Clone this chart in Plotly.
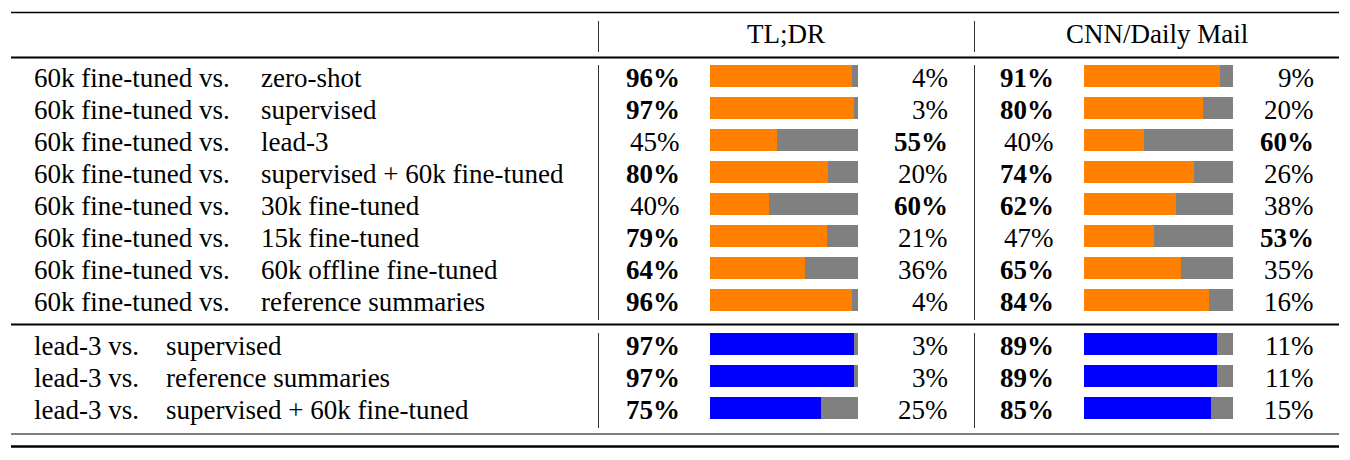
import plotly.graph_objects as go

left_terms = ["60k fine-tuned vs."] * 8 + ["lead-3 vs."] * 3
right_terms = [
    "zero-shot",
    "supervised",
    "lead-3",
    "supervised + 60k fine-tuned",
    "30k fine-tuned",
    "15k fine-tuned",
    "60k offline fine-tuned",
    "reference summaries",
    "supervised",
    "reference summaries",
    "supervised + 60k fine-tuned",
]
tldr_pct = [96, 97, 45, 80, 40, 79, 64, 96, 97, 97, 75]
cnn_pct = [91, 80, 40, 74, 62, 47, 65, 84, 89, 89, 85]
group_sizes = [8, 3]
group_colors = ["#FF8000", "#0000FF"]
datasets = ["TL;DR", "CNN/Daily Mail"]

# page has an 8px body margin, so the figure is a bit smaller and shifted
PAGE_W, PAGE_H, M = 1350, 460, 8
W, H = PAGE_W - 2 * M, PAGE_H - 2 * M
FONT = "Liberation Serif"
FS = 27
GRAY = "#808080"
PAD = 3  # annotation box padding

ROW0, ROWH = 76, 32  # page px of first row centre, row pitch


def px(x):
    return (x - M) / W


def py(y):
    return 1 - (y - M) / H


# row positions: one slot per row, a little extra gap between the groups
ypos, colors = [], []
offset = 0.0
for g, n in enumerate(group_sizes):
    start = sum(group_sizes[:g])
    for i in range(n):
        ypos.append(start + i + offset)
        colors.append(group_colors[g])
    offset += 0.375

fig = go.Figure()

for vals, xa in [(tldr_pct, "x"), (cnn_pct, "x2")]:
    fig.add_trace(go.Bar(
        y=ypos, x=vals, orientation="h", marker_color=colors,
        marker_line_width=0, width=0.69, xaxis=xa, yaxis="y",
        hoverinfo="skip", showlegend=False,
    ))
    fig.add_trace(go.Bar(
        y=ypos, x=[100 - v for v in vals], orientation="h", marker_color=GRAY,
        marker_line_width=0, width=0.69, xaxis=xa, yaxis="y",
        hoverinfo="skip", showlegend=False,
    ))

ann = []


def txt(x, y, s, anchor="left", bold=False, yref="y"):
    if bold:
        s = "<b>" + s + "</b>"
    shift = {"left": -PAD, "right": PAD, "center": 0}[anchor]
    ann.append(dict(x=px(x + shift), y=y, xref="paper", yref=yref, text=s, showarrow=False,
                    xanchor=anchor, yanchor="middle",
                    font=dict(family=FONT, size=FS, color="black")))


for i, y in enumerate(ypos):
    txt(35, y + 0.06, left_terms[i])
    second_x = 262 if left_terms[i].startswith("60k") else 167
    txt(second_x, y + 0.06, right_terms[i])
    for vals, lx, rx in [(tldr_pct, 679, 947), (cnn_pct, 1053, 1313)]:
        v = vals[i]
        txt(lx, y + 0.06, f"{v}%", "right", bold=v > 100 - v)
        txt(rx, y + 0.06, f"{100 - v}%", "right", bold=100 - v > v)

txt(786, py(34), datasets[0], "center", yref="paper")
txt(1157, py(34), datasets[1], "center", yref="paper")

shapes = []


def hline(y, w, color="black"):
    shapes.append(dict(type="line", xref="paper", yref="paper", x0=px(11), x1=px(1339),
                       y0=py(y), y1=py(y), line=dict(color=color, width=w)))


def vline(x, y0, y1):
    shapes.append(dict(type="line", xref="paper", yref="paper", x0=px(x), x1=px(x),
                       y0=py(y0), y1=py(y1), line=dict(color="#333333", width=1)))


hline(12.5, 1.6)
hline(57.5, 2)
hline(324.5, 2)
hline(434, 1.5, "#555555")
hline(446.5, 2.6)
for x in (598.5, 974.5):
    vline(x, 21, 52)
    vline(x, 65, 320)
    vline(x, 333, 428)

y_top = (M - ROW0) / ROWH
y_bot = (M + H - ROW0) / ROWH

fig.update_layout(
    width=W, height=H,
    margin=dict(l=0, r=0, t=0, b=0),
    paper_bgcolor="white", plot_bgcolor="white",
    barmode="stack", bargap=0,
    annotations=ann, shapes=shapes,
    xaxis=dict(domain=[px(710), px(858)], range=[0, 100], visible=False, fixedrange=True),
    xaxis2=dict(domain=[px(1084), px(1233)], range=[0, 100], visible=False, fixedrange=True,
                anchor="y"),
    yaxis=dict(domain=[0, 1], range=[y_bot, y_top], visible=False, fixedrange=True),
)

fig.write_html("out.html")
